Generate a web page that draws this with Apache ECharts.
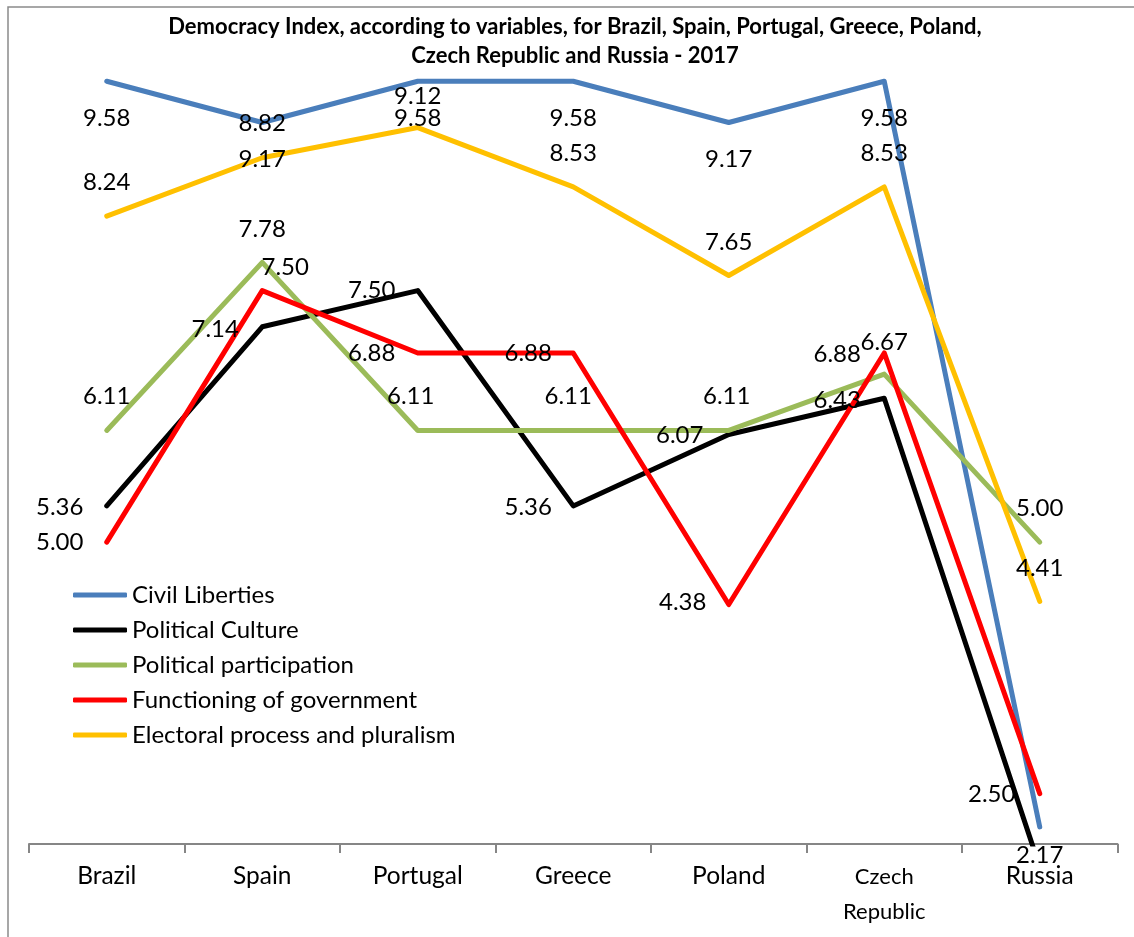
<!DOCTYPE html>
<html>
<head>
<meta charset="utf-8">
<script src="https://cdn.jsdelivr.net/npm/echarts@6/dist/echarts.min.js"></script>
<style>
  html, body { margin: 0; padding: 0; background: #fff; }
  #chart { width: 1134px; height: 937px; }
</style>
</head>
<body>
<div id="chart"></div>
<script>
// data
const countries = ["Brazil", "Spain", "Portugal", "Greece", "Poland", "Czech Republic", "Russia"];
const civilLiberties = [9.58, 9.17, 9.58, 9.58, 9.17, 9.58, 2.17];
const politicalCulture = [5.36, 7.14, 7.50, 5.36, 6.07, 6.43, 1.77];
const politicalParticipation = [6.11, 7.78, 6.11, 6.11, 6.11, 6.67, 5.00];
const functioningOfGovernment = [5.00, 7.50, 6.88, 6.88, 4.38, 6.88, 2.50];
const electoralProcess = [8.24, 8.82, 9.12, 8.53, 7.65, 8.53, 4.41];

// where each value label sits, relative to its point (px)
const civilOffsets = [[0, 37], [0, 37], [0, 37], [0, 37], [0, 37], [0, 37], [0, 28]];
const cultureOffsets = [[-47, 1], [-47, 2], [-46, 0], [-45, 1], [-49, 1], [-47, 2], [-47, 0]];
const participationOffsets = [[0, -34], [0, -33], [-7, -34], [-5, -34], [-2, -34], [0, -32], [0, -34]];
const functioningOffsets = [[-47, 0], [23, -23], [-46, 0], [-45, 0], [-46, -2], [-47, 1], [-48, 1]];
const electoralOffsets = [[0, -34], [0, -34], [0, -31], [0, -34], [0, -33], [0, -34], [0, -33]];

const yMin = 2;
const yMax = 10;

var chart = echarts.init(document.getElementById("chart"));

function makeSeries(name, values, offsets, color) {
  return {
    name: name,
    type: "line",
    symbol: "circle",
    symbolSize: 1,
    showSymbol: true,
    clip: true,
    itemStyle: { color: color },
    lineStyle: { color: color, width: 5, cap: "round", join: "round" },
    label: {
      show: true,
      position: "inside",
      color: "#000",
      fontFamily: "Lato",
      fontSize: 24,
      formatter: function (p) {
        return p.value < yMin ? "" : p.value.toFixed(2);
      }
    },
    emphasis: { disabled: true },
    data: values.map(function (v, i) {
      return { value: v, label: { offset: offsets[i] } };
    })
  };
}

var option = {
  backgroundColor: "#fff",
  animation: false,
  graphic: [
    {
      type: "rect",
      shape: { x: 8, y: 7, width: 1300, height: 1100 },
      style: { fill: "none", stroke: "#8a8a8a", lineWidth: 1.5 },
      silent: true
    },
    {
      type: "text",
      x: 575,
      y: 27,
      style: {
        text: "Democracy Index, according to variables, for Brazil, Spain, Portugal, Greece, Poland,",
        font: "bold 22px Lato",
        fill: "#000",
        textAlign: "center",
        textVerticalAlign: "middle"
      }
    },
    {
      type: "text",
      x: 575,
      y: 56,
      style: {
        text: "Czech Republic and Russia - 2017",
        font: "bold 22px Lato",
        fill: "#000",
        textAlign: "center",
        textVerticalAlign: "middle"
      }
    }
  ],
  legend: {
    orient: "vertical",
    left: 73,
    top: 583,
    padding: 0,
    itemWidth: 54,
    itemHeight: 5,
    itemGap: 11,
    icon: "roundRect",
    selectedMode: false,
    textStyle: { fontFamily: "Lato", fontSize: 24, color: "#000", lineHeight: 24 },
    data: ["Civil Liberties", "Political Culture", "Political participation",
      "Functioning of government", "Electoral process and pluralism"]
  },
  grid: { left: 29, right: 16.5, top: 39, bottom: 93 },
  xAxis: {
    type: "category",
    data: countries,
    boundaryGap: true,
    axisLine: { lineStyle: { color: "#868686", width: 2 } },
    axisTick: { show: true, length: 9, lineStyle: { color: "#868686", width: 2 } },
    axisLabel: {
      margin: 15,
      interval: 0,
      color: "#000",
      fontFamily: "Lato",
      fontSize: 24.5,
      lineHeight: 35,
      formatter: function (v) {
        if (v.indexOf(" ") > -1) {
          return v.split(" ").map(function (w) { return "{s|" + w + "}"; }).join("\n");
        }
        return v;
      },
      rich: {
        s: { fontFamily: "Lato", fontSize: 22, lineHeight: 35, color: "#000" }
      }
    }
  },
  yAxis: {
    type: "value",
    min: yMin,
    max: yMax,
    show: false,
    splitLine: { show: false }
  },
  series: [
    makeSeries("Civil Liberties", civilLiberties, civilOffsets, "#4A7EBB"),
    makeSeries("Political Culture", politicalCulture, cultureOffsets, "#000000"),
    makeSeries("Political participation", politicalParticipation, participationOffsets, "#9BBB59"),
    makeSeries("Functioning of government", functioningOfGovernment, functioningOffsets, "#FF0000"),
    makeSeries("Electoral process and pluralism", electoralProcess, electoralOffsets, "#FFC000")
  ]
};

chart.setOption(option);
</script>
</body>
</html>
